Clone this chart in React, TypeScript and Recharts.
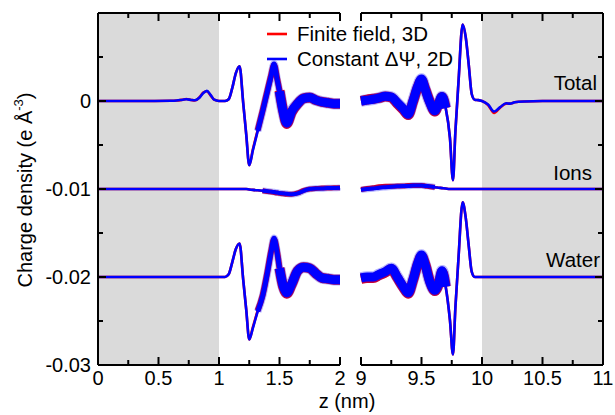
import React from "react";
import { LineChart, Line, XAxis, YAxis, ReferenceArea } from "recharts";

// z (nm), left part of the broken axis
const zLeft = [
  0, 0.2, 0.4, 0.6, 0.65, 0.7, 0.73, 0.77, 0.8, 0.84, 0.87, 0.9, 0.93, 0.96,
  1.0, 1.05, 1.08, 1.11, 1.14, 1.17, 1.2, 1.225, 1.25, 1.28, 1.32, 1.36, 1.4,
  1.43, 1.455, 1.48, 1.5, 1.53, 1.56, 1.6, 1.65, 1.7, 1.75, 1.8, 1.85, 1.9,
  1.95, 2.0,
];
// charge density in 1e-3 e/A^3 (offset already included: ions -10, water -20)
const cpTotalLeft = [
  0, 0, 0, 0.02, 0.05, 0.15, 0.2, 0.12, 0.08, 0.4, 0.9, 1.15, 0.7, 0.15,
  0, 0, 0.2, 1.5, 3.2, 3.95, -0.2, -3.8, -7.3, -5.6, -3.4, -1.2, 1.1,
  2.8, 4.2, 2.5, 1.1, -1.2, -2.5, -1.2, -0.3, 0.3, 0.4, 0.1, -0.1, -0.2,
  -0.3, -0.3,
];
const ffTotalLeft = [
  0, 0, 0, 0.02, 0.05, 0.15, 0.22, 0.12, 0.06, 0.45, 0.95, 1.1, 0.65, 0.15,
  0, 0, 0.2, 1.5, 3.2, 3.95, -0.2, -3.8, -7.3, -5.5, -3.3, -1.1, 1.2,
  2.9, 4.1, 2.6, 1.2, -1.1, -2.6, -1.3, -0.3, 0.3, 0.4, 0.1, -0.1, -0.2,
  -0.3, -0.3,
];
const cpIonsLeft = [
  -10, -10, -10, -10, -10, -10, -10, -10, -10, -10, -10, -10, -10, -10,
  -10, -10, -10, -10, -10, -10, -10, -10, -10.05, -10.1, -10.15, -10.2, -10.25,
  -10.3, -10.35, -10.4, -10.45, -10.5, -10.55, -10.6, -10.5, -10.2, -10.0, -9.95, -9.95, -9.9,
  -9.9, -9.85,
];
const ffIonsLeft = [
  -10, -10, -10, -10, -10, -10, -10, -10, -10, -10, -10, -10, -10, -10,
  -10, -10, -10, -10, -10, -10, -10, -10, -10.05, -10.1, -10.15, -10.2, -10.3,
  -10.35, -10.4, -10.45, -10.5, -10.55, -10.6, -10.6, -10.45, -10.15, -10.0, -9.95, -9.9, -9.9,
  -9.85, -9.85,
];
const cpWaterLeft = [
  -20, -20, -20, -20, -20, -20, -20, -20, -20, -20, -20, -20, -20, -20,
  -20, -20, -19.7, -18.3, -16.8, -16.2, -20.3, -23.7, -27.1, -25.8, -23.9, -22.2, -19.5,
  -17.2, -15.6, -17.2, -19.0, -21.0, -21.8, -20.8, -19.3, -18.9, -19.0, -19.6, -20.1, -20.2,
  -20.3, -20.3,
];
const ffWaterLeft = [
  -20, -20, -20, -20, -20, -20, -20, -20, -20, -20, -20, -20, -20, -20,
  -20, -20, -19.7, -18.3, -16.8, -16.2, -20.3, -23.7, -27.1, -25.7, -23.8, -22.1, -19.4,
  -17.1, -15.7, -17.1, -19.0, -21.1, -21.9, -20.9, -19.3, -18.9, -19.0, -19.6, -20.1, -20.2,
  -20.3, -20.3,
];

// z (nm), right part of the broken axis
const zRight = [
  9.0, 9.05, 9.1, 9.15, 9.2, 9.25, 9.3, 9.35, 9.39, 9.43, 9.47, 9.5, 9.53,
  9.57, 9.61, 9.64, 9.67, 9.7, 9.735, 9.76, 9.78, 9.805, 9.84, 9.865, 9.89,
  9.915, 9.94, 9.97, 10.0, 10.05, 10.1, 10.15, 10.2, 10.23, 10.27, 10.35, 10.5,
  10.75, 11.0,
];
const cpTotalRight = [
  0, 0.1, 0.2, 0.35, 0.55, 0.45, -0.2, -0.9, -1.5, 0, 1.7, 2.5, 1.35,
  -0.2, -1.1, -0.3, 0.5, -0.8, -4.2, -9.0, -3.5, 2.0, 8.7, 7.3, 4.2,
  0.8, 0.15, 0.1, 0, -0.4, -1.2, -0.7, -0.25, -0.3, -0.15, -0.05, 0,
  0, 0,
];
const ffTotalRight = [
  0, 0.15, 0.25, 0.35, 0.5, 0.4, -0.3, -1.0, -1.6, -0.1, 1.6, 2.4, 1.4,
  -0.1, -1.2, -0.4, 0.45, -0.8, -4.2, -9.0, -3.5, 2.0, 8.7, 7.3, 4.2,
  0.8, 0.15, 0.1, 0, -0.45, -1.35, -0.75, -0.3, -0.3, -0.15, -0.05, 0,
  0, 0,
];
const cpIonsRight = [
  -10.1, -10.0, -9.95, -9.85, -9.8, -9.75, -9.7, -9.65, -9.65, -9.6, -9.6, -9.6, -9.65,
  -9.7, -9.8, -9.85, -9.9, -9.95, -10, -10, -10, -10, -10, -10, -10,
  -10, -10, -10, -10, -10, -10, -10, -10, -10, -10, -10, -10,
  -10, -10,
];
const ffIonsRight = [
  -10.05, -9.95, -9.85, -9.75, -9.7, -9.7, -9.65, -9.65, -9.6, -9.6, -9.6, -9.6, -9.65,
  -9.75, -9.8, -9.85, -9.9, -9.95, -10, -10, -10, -10, -10, -10, -10,
  -10, -10, -10, -10, -10, -10, -10, -10, -10, -10, -10, -10,
  -10, -10,
];
const cpWaterRight = [
  -20.1, -20.0, -20.0, -19.7, -19.4, -19.0, -20.0, -21.1, -21.8, -20.3, -18.4, -17.5, -18.6,
  -20.6, -21.5, -20.8, -19.3, -21.1, -24.9, -28.8, -23.5, -18.0, -11.5, -13.2, -16.4,
  -19.4, -20.0, -20, -20, -20, -20, -20, -20, -20, -20, -20, -20,
  -20, -20,
];
const ffWaterRight = [
  -20.2, -20.1, -20.1, -19.8, -19.5, -19.1, -20.1, -21.2, -21.9, -20.4, -18.5, -17.6, -18.5,
  -20.5, -21.6, -20.9, -19.4, -21.1, -24.9, -28.8, -23.5, -18.0, -11.5, -13.2, -16.4,
  -19.4, -20.0, -20, -20, -20, -20, -20, -20, -20, -20, -20, -20,
  -20, -20,
];

const yTicks = [-30, -25, -20, -15, -10, -5, 0, 5, 10];
const xTicksLeft = [0, 0.25, 0.5, 0.75, 1, 1.25, 1.5, 1.75, 2];
const xTicksRight = [9, 9.25, 9.5, 9.75, 10, 10.25, 10.5, 10.75, 11];
const curveNames = ["Total", "Ions", "Water"];
const legendNames = ["Finite field, 3D", "Constant \u0394\u03A8, 2D"];

const FONT = '"Liberation Sans", Arial, Helvetica, sans-serif';
const RED = "#ff0000";
const BLUE = "#0000ff";
const GREY = "#dadada";

// noisy stretches are drawn as a thicker band on top of the curve
type Seg = { from: number; to: number; width: number };
const noiseLeft: Record<string, Seg[]> = {
  Total: [
    { from: 1.3, to: 1.5, width: 5 },
    { from: 1.5, to: 2, width: 9 },
  ],
  Ions: [{ from: 1.36, to: 2, width: 4 }],
  Water: [
    { from: 1.3, to: 1.5, width: 5 },
    { from: 1.5, to: 2, width: 9 },
  ],
};
const noiseRight: Record<string, Seg[]> = {
  Total: [{ from: 9, to: 9.7, width: 9 }],
  Ions: [{ from: 9, to: 9.61, width: 4 }],
  Water: [{ from: 9, to: 9.7, width: 9 }],
};

function buildRows(
  z: number[],
  series: Record<string, number[]>,
  noise: Record<string, Seg[]>
) {
  return z.map((zv, i) => {
    const row: Record<string, number | null> = { z: zv };
    Object.keys(series).forEach((key) => {
      const v = series[key][i];
      row[key] = v;
      const curve = key.slice(2);
      noise[curve].forEach((s, k) => {
        row[`${key}_n${k}`] = zv >= s.from - 1e-9 && zv <= s.to + 1e-9 ? v : null;
      });
    });
    return row;
  });
}

const leftRows = buildRows(
  zLeft,
  {
    ffTotal: ffTotalLeft,
    cpTotal: cpTotalLeft,
    ffIons: ffIonsLeft,
    cpIons: cpIonsLeft,
    ffWater: ffWaterLeft,
    cpWater: cpWaterLeft,
  },
  noiseLeft
);
const rightRows = buildRows(
  zRight,
  {
    ffTotal: ffTotalRight,
    cpTotal: cpTotalRight,
    ffIons: ffIonsRight,
    cpIons: cpIonsRight,
    ffWater: ffWaterRight,
    cpWater: cpWaterRight,
  },
  noiseRight
);

const isMajor = (v: number, step: number) =>
  Math.abs(v / step - Math.round(v / step)) < 1e-6;

function BottomTick(props: any) {
  const { x, y, payload } = props;
  const v = payload.value;
  const major = isMajor(v, 0.5);
  return (
    <g>
      <line x1={x} x2={x} y1={y} y2={y - (major ? 8 : 5)} stroke="#000" strokeWidth={2} />
      {major && (
        <text x={x} y={y + 20} textAnchor="middle" fontSize={20} fontFamily={FONT} fill="#000">
          {String(v)}
        </text>
      )}
    </g>
  );
}

function TopTick(props: any) {
  const { x, y, payload } = props;
  const major = isMajor(payload.value, 0.5);
  return <line x1={x} x2={x} y1={y} y2={y + (major ? 8 : 5)} stroke="#000" strokeWidth={2} />;
}

function LeftTick(props: any) {
  const { x, y, payload } = props;
  const v = payload.value;
  const major = isMajor(v, 10);
  return (
    <g>
      <line x1={x} x2={x + (major ? 8 : 5)} y1={y} y2={y} stroke="#000" strokeWidth={2} />
      {major && v < 10 && (
        <text x={x - 7} y={y + 7} textAnchor="end" fontSize={20} fontFamily={FONT} fill="#000">
          {v === 0 ? "0" : (v / 1000).toFixed(2)}
        </text>
      )}
    </g>
  );
}

function RightTick(props: any) {
  const { x, y, payload } = props;
  const major = isMajor(payload.value, 10);
  return <line x1={x} x2={x - (major ? 8 : 5)} y1={y} y2={y} stroke="#000" strokeWidth={2} />;
}

function lineProps(xAxisId: string, yAxisId: string) {
  return {
    xAxisId,
    yAxisId,
    type: "monotone" as const,
    dot: false,
    activeDot: false,
    connectNulls: false,
    isAnimationActive: false,
    strokeLinejoin: "round" as const,
  };
}

function curveLines(noise: Record<string, Seg[]>, xAxisId: string, yAxisId: string) {
  const out: React.ReactElement[] = [];
  const p = lineProps(xAxisId, yAxisId);
  curveNames.forEach((curve) => {
    // finite field (red) underneath
    const ff = "ff" + curve;
    out.push(<Line key={ff} {...p} dataKey={ff} stroke={RED} strokeWidth={2.6} />);
    noise[curve].forEach((s, k) => {
      out.push(
        <Line key={`${ff}_n${k}`} {...p} dataKey={`${ff}_n${k}`} stroke={RED} strokeWidth={s.width + 1} />
      );
    });
    // constant potential (blue) on top, with a soft edge on the noisy band
    const cp = "cp" + curve;
    out.push(<Line key={cp} {...p} dataKey={cp} stroke={BLUE} strokeWidth={2.6} />);
    noise[curve].forEach((s, k) => {
      out.push(
        <Line key={`${cp}_f${k}`} {...p} dataKey={`${cp}_n${k}`} stroke={BLUE} strokeOpacity={0.3} strokeWidth={s.width + 2.5} />
      );
      out.push(
        <Line key={`${cp}_n${k}`} {...p} dataKey={`${cp}_n${k}`} stroke={BLUE} strokeWidth={s.width} />
      );
    });
  });
  return out;
}

const axisLine = { stroke: "#000", strokeWidth: 2 };

export default function App() {
  return (
    <div
      style={{
        position: "absolute",
        left: 0,
        top: 0,
        width: 615,
        height: 415,
        background: "#fff",
        fontFamily: FONT,
      }}
    >
      <div style={{ position: "absolute", left: 0, top: 0 }}>
        <LineChart width={345} height={415} data={leftRows} margin={{ top: 12, right: 5, bottom: 49, left: 97 }}>
          <ReferenceArea xAxisId="b" yAxisId="l" x1={0} x2={1} fill={GREY} fillOpacity={1} stroke="none" />
          <XAxis xAxisId="b" dataKey="z" type="number" domain={[0, 2]} ticks={xTicksLeft} interval={0}
            height={1} tickSize={0} tickMargin={0} tickLine={false} axisLine={axisLine} tick={<BottomTick />} />
          <XAxis xAxisId="t" orientation="top" dataKey="z" type="number" domain={[0, 2]} ticks={xTicksLeft} interval={0}
            height={1} tickSize={0} tickMargin={0} tickLine={false} axisLine={axisLine} tick={<TopTick />} />
          <YAxis yAxisId="l" type="number" domain={[-30, 10]} ticks={yTicks} interval={0}
            width={1} tickSize={0} tickMargin={0} tickLine={false} axisLine={axisLine} tick={<LeftTick />} />
          {curveLines(noiseLeft, "b", "l")}
        </LineChart>
      </div>
      <div style={{ position: "absolute", left: 345, top: 0 }}>
        <LineChart width={270} height={415} data={rightRows} margin={{ top: 12, right: 11, bottom: 49, left: 16 }}>
          <ReferenceArea xAxisId="b" yAxisId="r" x1={10} x2={11} fill={GREY} fillOpacity={1} stroke="none" />
          <XAxis xAxisId="b" dataKey="z" type="number" domain={[9, 11]} ticks={xTicksRight} interval={0}
            height={1} tickSize={0} tickMargin={0} tickLine={false} axisLine={axisLine} tick={<BottomTick />} />
          <XAxis xAxisId="t" orientation="top" dataKey="z" type="number" domain={[9, 11]} ticks={xTicksRight} interval={0}
            height={1} tickSize={0} tickMargin={0} tickLine={false} axisLine={axisLine} tick={<TopTick />} />
          <YAxis yAxisId="r" orientation="right" type="number" domain={[-30, 10]} ticks={yTicks} interval={0}
            width={1} tickSize={0} tickMargin={0} tickLine={false} axisLine={axisLine} tick={<RightTick />} />
          {curveLines(noiseRight, "b", "r")}
        </LineChart>
      </div>
      <svg
        width={615}
        height={415}
        style={{ position: "absolute", left: 0, top: 0, pointerEvents: "none" }}
        fontFamily={FONT}
        fontSize={20.5}
      >
        <line x1={267} x2={287} y1={34} y2={34} stroke={RED} strokeWidth={2.6} />
        <text x={297} y={41} fill="#000">{legendNames[0]}</text>
        <line x1={267} x2={287} y1={59} y2={59} stroke={BLUE} strokeWidth={2.6} />
        <text x={297} y={66} fill="#000">{legendNames[1]}</text>

        <text x={597} y={90} textAnchor="end" fill="#000">{curveNames[0]}</text>
        <text x={592} y={180} textAnchor="end" fill="#000">{curveNames[1]}</text>
        <text x={600} y={267} textAnchor="end" fill="#000">{curveNames[2]}</text>

        <text x={347} y={408} textAnchor="middle" fill="#000" fontSize={20}>z (nm)</text>
        <text transform="translate(32,190) rotate(-90)" textAnchor="middle" fill="#000" fontSize={20}>
          Charge density (e Å<tspan fontSize={13} dy={-9}>-3</tspan>
          <tspan dy={9}>)</tspan>
        </text>
      </svg>
    </div>
  );
}
